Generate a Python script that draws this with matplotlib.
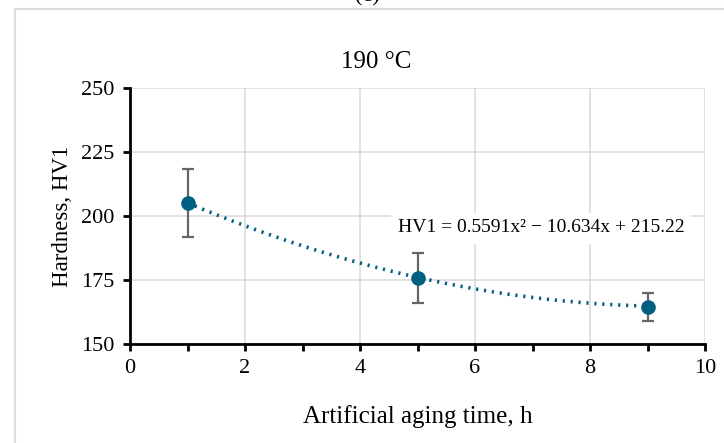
import numpy as np
import matplotlib
matplotlib.use("Agg")
import matplotlib.pyplot as plt
import matplotlib.patches as patches
from matplotlib.ticker import MultipleLocator



# measured hardness at 190 C
AGING_TIME=[1,5,9]
HARDNESS=[205.1,175.8,164.4]
HARDNESS_ERR=[13.2,9.7,5.5]

# quadratic trend as printed on the chart
TREND_COEFF=[0.5591,-10.634,215.22]
TREND_LABEL="HV1 = 0.5591x\u00b2 \u2212 10.634x + 215.22"

TITLE="190 \u00b0C"
XLABEL="Artificial aging time, h"
YLABEL="Hardness, HV1"

TEAL="#005f80"
GRAY_BAR="#666666"
GRID="#d9d9d9"
W,H=724,443



plt.rcParams["font.family"]="serif"
plt.rcParams["font.serif"]=["Liberation Serif","DejaVu Serif"]

fig=plt.figure(figsize=(W/100,H/100),dpi=100)
ax=fig.add_axes([130/W,1-344/H,(705-130)/W,(344-88)/H])

# outer frame, partly off the picture
fig.patches.append(patches.Rectangle((15/W,-0.2),1.2,1.2-9/H,transform=fig.transFigure,fill=False,edgecolor="#dcdcdc",linewidth=1.6))
fig.text(367/W,1-1/H,"(c)",ha="center",va="baseline",fontsize=16)

ax.set_xlim(0,10)
ax.set_ylim(150,250)
ax.xaxis.set_major_locator(MultipleLocator(2))
ax.xaxis.set_minor_locator(MultipleLocator(1))
ax.yaxis.set_major_locator(MultipleLocator(25))
ax.grid(True,which="major",color=GRID,linewidth=1.1)
ax.set_axisbelow(True)
for s in ("top","right"):
	ax.spines[s].set_visible(False)
for s in ("left","bottom"):
	ax.spines[s].set_linewidth(2)
	ax.spines[s].set_color("black")
ax.tick_params(which="both",direction="out",width=2,length=5,labelsize=16,pad=6)

xs=np.linspace(AGING_TIME[0],AGING_TIME[-1],200)
ax.plot(xs,np.polyval(TREND_COEFF,xs),linestyle=(0,(0.6,1.6)),color=TEAL,linewidth=2.6,zorder=3)
ax.errorbar(AGING_TIME,HARDNESS,yerr=HARDNESS_ERR,fmt="o",color=TEAL,markersize=9.5,ecolor=GRAY_BAR,elinewidth=1.6,capsize=4.5,capthick=1.6,zorder=4)

ax.text(541/W,1-228/H,TREND_LABEL,transform=fig.transFigure,ha="center",va="center",fontsize=14,
	bbox=dict(facecolor="white",edgecolor="none",pad=5),zorder=5)

fig.text(376/W,1-62/H,TITLE,ha="center",va="center",fontsize=18)
ax.set_xlabel(XLABEL,fontsize=18,labelpad=19)
ax.set_ylabel(YLABEL,fontsize=16.5,labelpad=6)

fig.savefig("out.png",dpi=100)
